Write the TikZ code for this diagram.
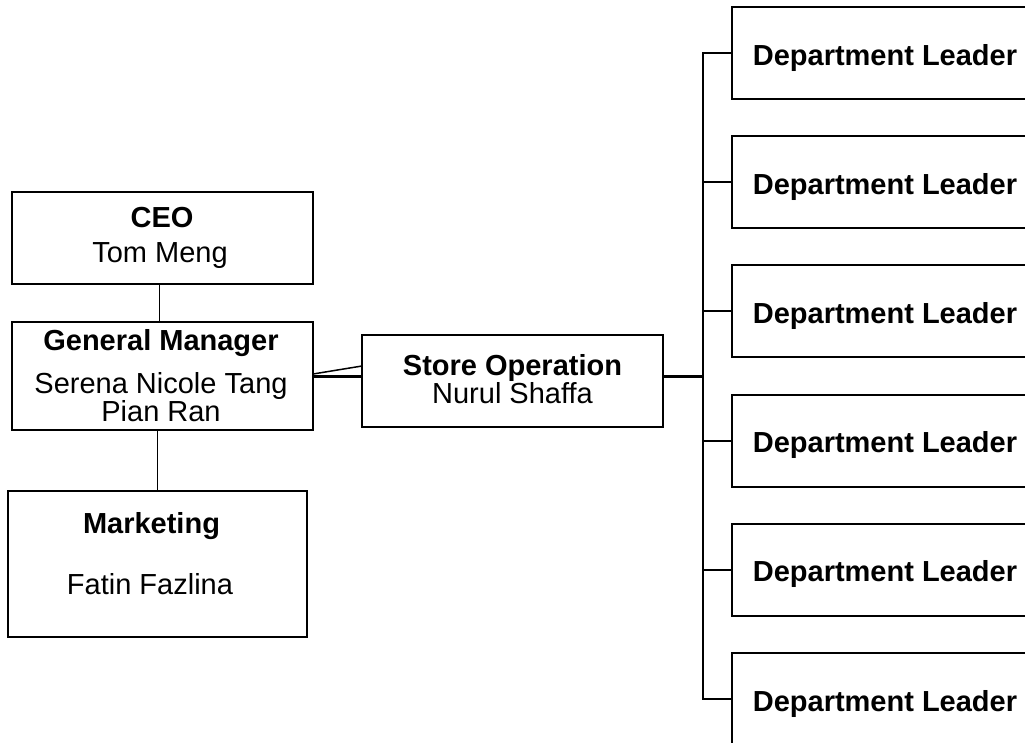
\documentclass[tikz,border=0pt]{standalone}
\usepackage{fontspec}
\setmainfont{Liberation Sans}
\usetikzlibrary{calc}

\tikzset{
  box/.style={draw, line width=2pt, inner sep=0pt, outer sep=0pt},
  txt/.style={anchor=base, inner sep=0pt, font=\fontsize{29}{29}\selectfont},
  head/.style={txt, font=\fontsize{29}{29}\selectfont\bfseries},
  link/.style={line width=1pt},
  slant/.style={line width=1.5pt},
  trunk/.style={line width=3pt},
  tick/.style={line width=2pt}
}

\begin{document}
\begin{tikzpicture}[x=1pt, y=-1pt]

    \clip (0,0) rectangle (1025,742);

    \node[box, minimum width=301pt, minimum height=92pt] (ceo) at (162.5,238) {};
    \node[head] (ceoT) at (162,227) {CEO};
    \node[txt] (ceoN) at (160,262) {Tom Meng};

    \node[box, minimum width=301pt, minimum height=108pt] (gm) at (162.5,376) {};
    \node[head] (gmT) at (161,350) {General Manager};
    \node[txt] (gmN) at (161,393) {Serena Nicole Tang};
    \node[txt] (gmM) at (161,421) {Pian Ran};

    \node[box, minimum width=299pt, minimum height=146pt] (mkt) at (157.5,564) {};
    \node[head] (mktT) at (151.5,533) {Marketing};
    \node[txt] (mktN) at (150,594) {Fatin Fazlina};

    \node[box, minimum width=301pt, minimum height=92pt] (ops) at (512.5,381) {};
    \node[head] (opsT) at (512.5,375) {Store Operation};
    \node[txt] (opsN) at (512.5,403) {Nurul Shaffa};

    \draw[link] ([xshift=-3pt]ceo.south) -- ([xshift=-3pt]gm.north);
    \draw[link] (mkt.north |- gm.south) -- (mkt.north);
    \draw[trunk] (gm.east) -- (gm.east -| ops.west);
    \draw[slant] ([yshift=2pt]gm.east) -- ([yshift=15pt]ops.west);

    \foreach \i in {1,...,6}{
        \node[box, minimum width=313pt, minimum height=92pt] (d\i) at (888.5,{53+129.2*(\i-1)}) {};
        \node[head] (d\i T) at (885,{65+129.2*(\i-1)}) {Department Leader};
        \coordinate (b\i) at (703,{53+129.2*(\i-1)});
    }

    \coordinate (hub) at (703,376);
    \draw[trunk] ([yshift=5pt]ops.east) -- (hub);
    \draw[tick] (d1.west) -- (b1) -- (b6) -- (d6.west);
    \foreach \i in {2,...,5}
        \draw[tick] (b\i) -- (d\i.west);

\end{tikzpicture}
\end{document}
